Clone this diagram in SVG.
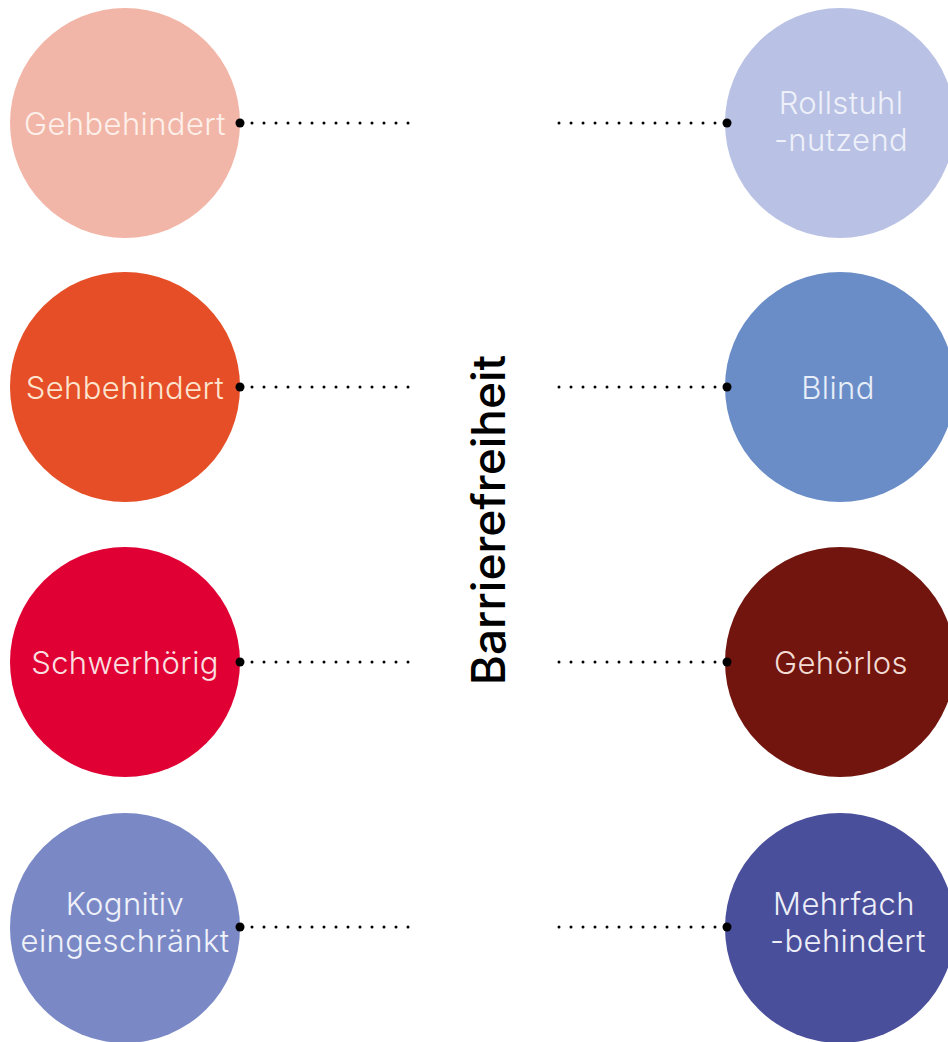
<svg xmlns="http://www.w3.org/2000/svg" width="948" height="1042" viewBox="0 0 948 1042">
<style>
.lbl{font-family:"Inter","Noto Sans",sans-serif;font-weight:300;font-size:31px;letter-spacing:0.4px;text-anchor:middle}
.title{font-family:"Inter","Noto Sans",sans-serif;font-weight:500;font-size:46px;text-anchor:middle;fill:#000}
.dots{stroke:#000;stroke-width:3;stroke-linecap:round;stroke-dasharray:0 12;fill:none}
.end{fill:#000}
</style>
<rect width="948" height="1042" fill="#ffffff"/>
<g id="title"><text class="title" transform="translate(505 520) rotate(-90)">Barrierefreiheit</text></g>
<g id="gehbehindert"><circle cx="125" cy="123" r="115" fill="#f2b6a8"/><text class="lbl" x="125" y="135" fill="#fdf0ea">Gehbehindert</text></g>
<g id="rollstuhl"><circle cx="840" cy="123" r="115" fill="#b9c2e4"/><text class="lbl" x="841" y="114" fill="#eef0fa">Rollstuhl</text><text class="lbl" x="841" y="151" fill="#eef0fa">-nutzend</text></g>
<g id="sehbehindert"><circle cx="125" cy="387" r="115" fill="#e54e26"/><text class="lbl" x="125" y="399" fill="#fde4cf">Sehbehindert</text></g>
<g id="blind"><circle cx="840" cy="387" r="115" fill="#6a8dc8"/><text class="lbl" x="838" y="399" fill="#e8eef8">Blind</text></g>
<g id="schwerhoerig"><circle cx="125" cy="662" r="115" fill="#e00034"/><text class="lbl" x="125" y="674" fill="#fbe0e2">Schwerhörig</text></g>
<g id="gehoerlos"><circle cx="840" cy="662" r="115" fill="#72150f"/><text class="lbl" x="841" y="674" fill="#f2dcd4">Gehörlos</text></g>
<g id="kognitiv"><circle cx="125" cy="928" r="115" fill="#7a89c6"/><text class="lbl" x="125" y="915" fill="#f0f2fa">Kognitiv</text><text class="lbl" x="125" y="952" fill="#f0f2fa">eingeschränkt</text></g>
<g id="mehrfach"><circle cx="840" cy="928" r="115" fill="#4a4f9c"/><text class="lbl" x="844" y="915" fill="#eceef8">Mehrfach</text><text class="lbl" x="848" y="952" fill="#eceef8">-behindert</text></g>
<g id="connectors">
<path class="dots" d="M252 123H409M252 387H409M252 662H409M252 927H409"/>
<path class="dots" d="M559 123H716M559 387H716M559 662H716M559 927H716"/>
<circle class="end" cx="240" cy="123" r="4.5"/>
<circle class="end" cx="240" cy="387" r="4.5"/>
<circle class="end" cx="240" cy="662" r="4.5"/>
<circle class="end" cx="240" cy="927" r="4.5"/>
<circle class="end" cx="727" cy="123" r="4.5"/>
<circle class="end" cx="727" cy="387" r="4.5"/>
<circle class="end" cx="727" cy="662" r="4.5"/>
<circle class="end" cx="727" cy="927" r="4.5"/>
</g>
</svg>
